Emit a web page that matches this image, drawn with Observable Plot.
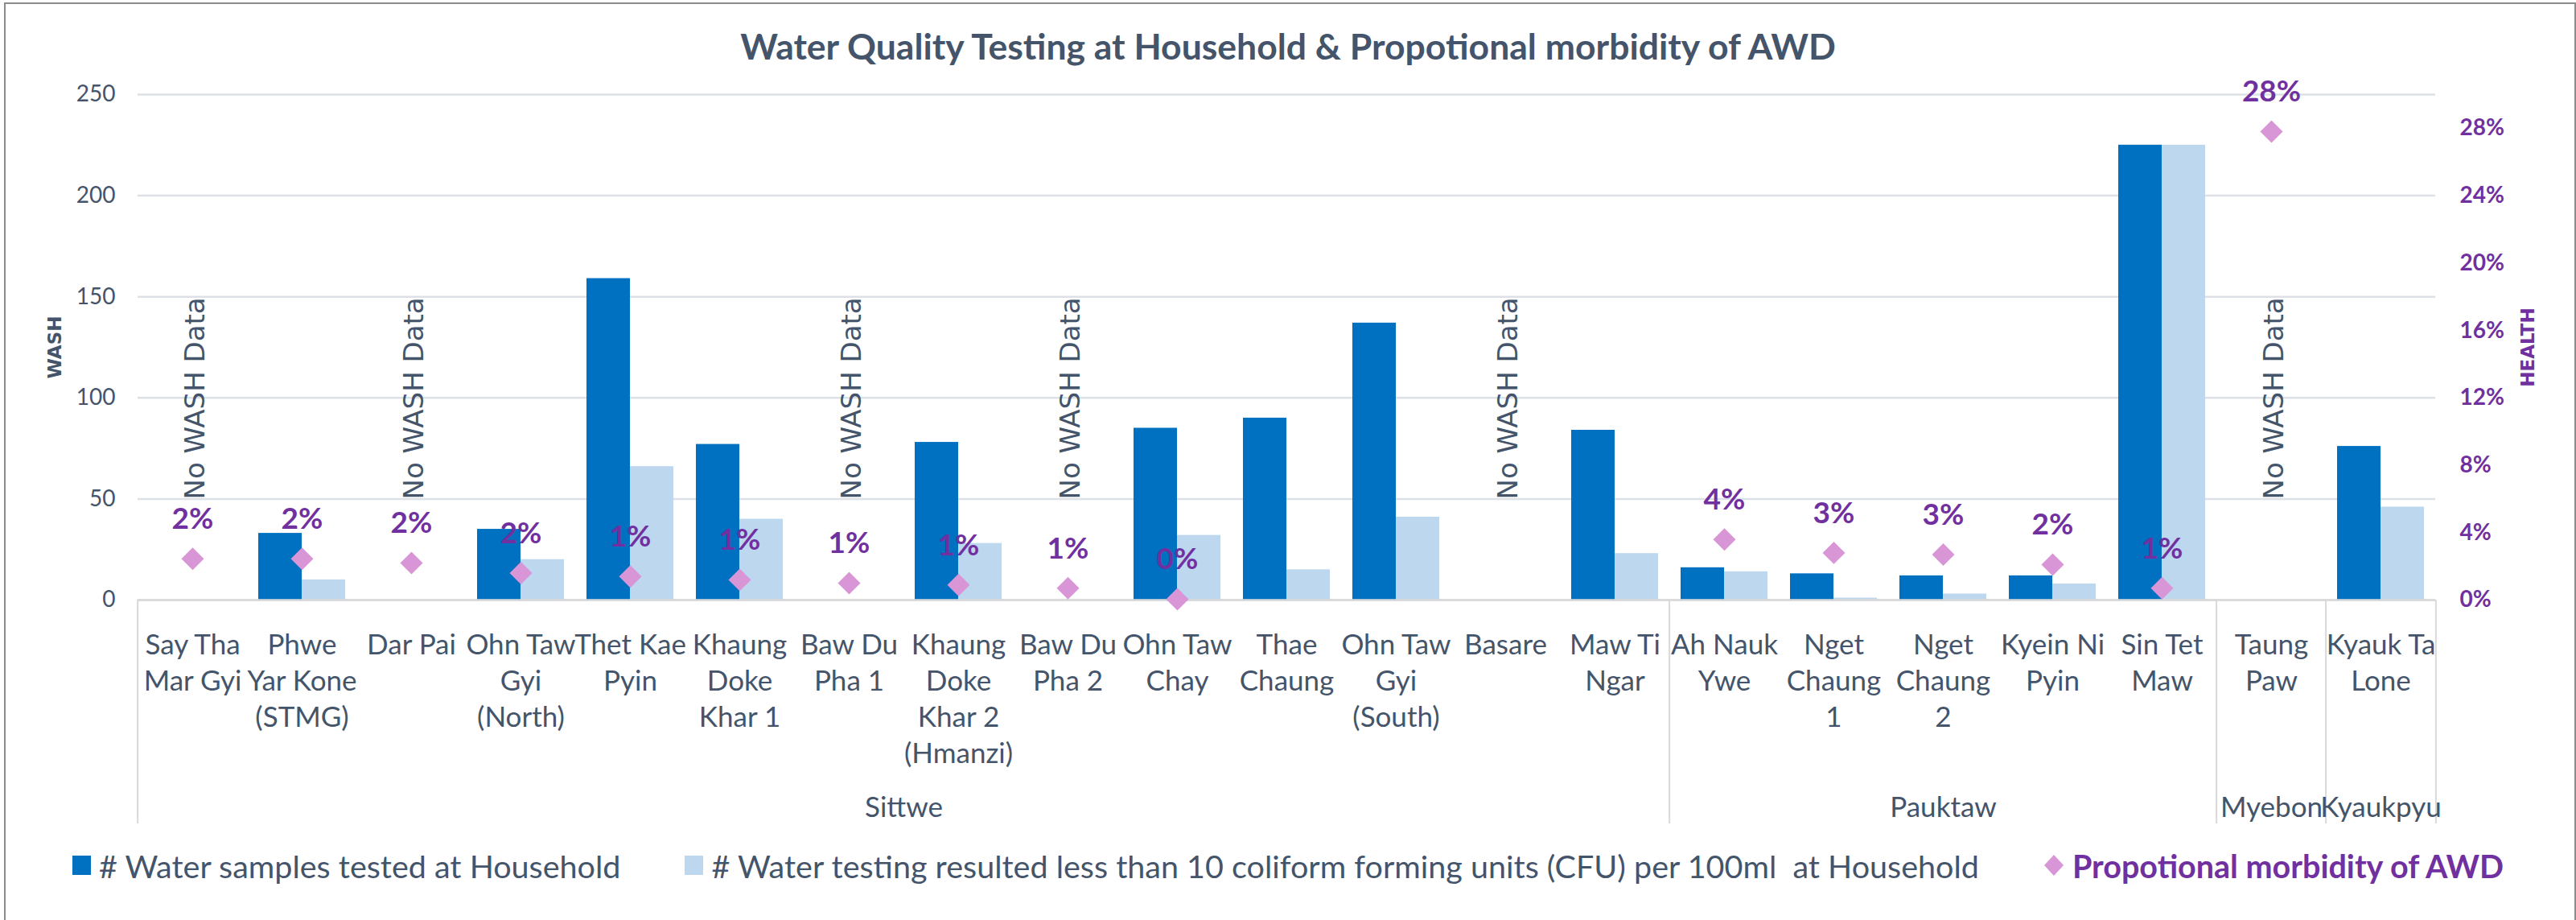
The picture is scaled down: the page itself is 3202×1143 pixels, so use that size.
<!DOCTYPE html>
<html><head><meta charset="utf-8">
<script src="https://cdn.jsdelivr.net/npm/d3@7"></script>
<script src="https://cdn.jsdelivr.net/npm/@observablehq/plot@0.6"></script>
<style>
html,body{margin:0;padding:0;background:#fff;}
body{width:3202px;height:1143px;position:relative;overflow:hidden;font-family:Lato,sans-serif;}
#border{position:absolute;left:5px;top:3px;width:3197px;height:1200px;border:2px solid #8c8c8c;border-bottom:none;box-sizing:border-box;}
#title{position:absolute;left:0;top:28px;width:3202px;text-align:center;font-weight:700;font-size:44.5px;color:#44546A;line-height:58px;}
#chart{position:absolute;left:0;top:90px;}
#legend{position:absolute;left:0;top:1045px;width:3202px;height:60px;display:flex;justify-content:center;align-items:center;gap:80px;font-size:39.5px;color:#44546A;}
.item{display:flex;align-items:center;gap:10px;white-space:pre;}
.sw{width:23px;height:24px;display:inline-block;}
</style></head><body>
<div id="border"></div>
<div id="title">Water Quality Testing at Household &amp; Propotional morbidity of AWD</div>
<div id="chart"></div>
<div id="legend"></div>
<script>
// ---- data ----
const categories = ["Say Tha Mar Gyi","Phwe Yar Kone (STMG)","Dar Pai","Ohn Taw Gyi (North)","Thet Kae Pyin","Khaung Doke Khar 1","Baw Du Pha 1","Khaung Doke Khar 2 (Hmanzi)","Baw Du Pha 2","Ohn Taw Chay","Thae Chaung","Ohn Taw Gyi (South)","Basare","Maw Ti Ngar","Ah Nauk Ywe","Nget Chaung 1","Nget Chaung 2","Kyein Ni Pyin","Sin Tet Maw","Taung Paw","Kyauk Ta Lone"];
const tickLabels = ["Say Tha\nMar Gyi","Phwe\nYar Kone\n(STMG)","Dar Pai","Ohn Taw\nGyi\n(North)","Thet Kae\nPyin","Khaung\nDoke\nKhar 1","Baw Du\nPha 1","Khaung\nDoke\nKhar 2\n(Hmanzi)","Baw Du\nPha 2","Ohn Taw\nChay","Thae\nChaung","Ohn Taw\nGyi\n(South)","Basare","Maw Ti\nNgar","Ah Nauk\nYwe","Nget\nChaung\n1","Nget\nChaung\n2","Kyein Ni\nPyin","Sin Tet\nMaw","Taung\nPaw","Kyauk Ta\nLone"];
const districts = ["Sittwe","Sittwe","Sittwe","Sittwe","Sittwe","Sittwe","Sittwe","Sittwe","Sittwe","Sittwe","Sittwe","Sittwe","Sittwe","Sittwe","Pauktaw","Pauktaw","Pauktaw","Pauktaw","Pauktaw","Myebon","Kyaukpyu"];
const tested = [null,33,null,35,159,77,null,78,null,85,90,137,null,84,16,13,12,12,225,null,76];
const passed = [null,10,null,20,66,40,null,28,null,32,15,41,null,23,14,1,3,8,225,null,46];
const awd = [0.0245,0.0245,0.022,0.016,0.014,0.012,0.010,0.009,0.007,0.0005,null,null,null,null,0.036,0.028,0.027,0.021,0.007,0.278,null];
const seriesNames = ["# Water samples tested at Household","# Water testing resulted less than 10 coliform forming units (CFU) per 100ml  at Household"];
const awdName = "Propotional morbidity of AWD";
const noDataText = "No WASH Data";
const leftTicks = [0,50,100,150,200,250];
const rightTicks = [0,0.04,0.08,0.12,0.16,0.20,0.24,0.28];
const leftMax = 250, rightMax = 0.30;

// ---- style ----
const C = {dark:"#0070C0", light:"#BDD7EE", diamond:"#D896D6", purple:"#7030A0", text:"#44546A", grid:"#DDE1E7"};
const W = 3202, H = 950, mL = 163, mR = 167, mT = 27, mB = 295;
const facetW = (W - mL - mR) / categories.length;
const k = leftMax / rightMax;
const pct = d3.format(".0%");

const bars = [];
categories.forEach((c, i) => {
  if (tested[i] != null) bars.push({cat: c, s: "tested", v: tested[i]});
  if (passed[i] != null) bars.push({cat: c, s: "passed", v: passed[i]});
});
const awdRows = categories.map((c, i) => ({cat: c, p: awd[i]})).filter(d => d.p != null);
const noData = categories.filter((c, i) => tested[i] == null);

// district groups
const groups = [];
districts.forEach((d, i) => {
  const g = groups[groups.length - 1];
  if (g && g.name === d) g.n++; else groups.push({name: d, s: i, n: 1});
});
const groupsEven = [], groupsOdd = [];
groups.forEach(g => {
  const mid = g.s + g.n / 2;
  if (Number.isInteger(mid)) groupsEven.push({name: g.name, cat: categories[mid]});
  else groupsOdd.push({name: g.name, cat: categories[Math.floor(mid)]});
});
const sepLeft = groups.map(g => categories[g.s]);
const sepRight = [categories[categories.length - 1]];

const font = "Lato, sans-serif";
const chart = Plot.plot({
  width: W, height: H,
  marginLeft: mL, marginRight: mR, marginTop: mT, marginBottom: mB,
  style: {fontFamily: font, background: "transparent", overflow: "visible"},
  fx: {domain: categories, padding: 0, label: null},
  x: {domain: ["tested","passed"], paddingInner: 0, paddingOuter: 0.255, axis: null},
  y: {domain: [0, leftMax], label: null},
  color: {domain: ["tested","passed"], range: [C.dark, C.light]},
  marks: [
    Plot.gridY(leftTicks, {stroke: C.grid, strokeOpacity: 1, strokeWidth: 2.5}),
    Plot.barY(bars, {fx: "cat", x: "s", y: "v", fill: "s"}),
    Plot.ruleY([0], {stroke: "#D9D9D9", strokeWidth: 2.5}),
    Plot.ruleX(sepLeft, {fx: d => d, x: null, y1: 0, insetBottom: -278, dx: -facetW / 2, stroke: "#D9D9D9", strokeWidth: 2}),
    Plot.ruleX(sepRight, {fx: d => d, x: null, y1: 0, insetBottom: -278, dx: facetW / 2, stroke: "#D9D9D9", strokeWidth: 2}),
    Plot.text(noData, {fx: d => d, text: () => noDataText, frameAnchor: "bottom", rotate: -90, textAnchor: "start", dy: -125, dx: 14, fontFamily: "DejaVu Sans", fontSize: 34, fill: C.text}),
    Plot.dot(awdRows, {fx: "cat", y: d => d.p * k, symbol: "diamond2", r: 12.6, fill: C.diamond, stroke: "none"}),
    Plot.text(awdRows, {fx: "cat", y: d => d.p * k, text: d => pct(d.p), dy: -49, fill: C.purple, fontWeight: "bold", fontSize: 37}),
    Plot.axisY(leftTicks, {anchor: "left", tickSize: 0, tickPadding: 28, fontSize: 28, color: C.text, label: null}),
    Plot.axisY(rightTicks.map(p => p * k), {anchor: "right", tickSize: 0, tickPadding: 30, fontSize: 28, fontWeight: "bold", color: C.purple, tickFormat: v => pct(v / k), label: null}),
    Plot.axisFx({anchor: "bottom", tickSize: 0, tickPadding: 36, fontSize: 35, lineHeight: 1.286, color: C.text, tickFormat: d => tickLabels[categories.indexOf(d)], label: null}),
    Plot.text(groupsEven, {fx: "cat", text: "name", frameAnchor: "bottom-left", textAnchor: "middle", lineAnchor: "top", dy: 245, fontSize: 35, fill: C.text}),
    Plot.text(groupsOdd, {fx: "cat", text: "name", frameAnchor: "bottom", textAnchor: "middle", lineAnchor: "top", dy: 245, fontSize: 35, fill: C.text}),
    Plot.text([{cat: categories[0], t: "WASH"}], {fx: "cat", text: "t", frameAnchor: "left", textAnchor: "middle", rotate: -90, dx: -103, fontFamily: "DejaVu Sans", fontWeight: "bold", fontSize: 23, fill: C.text}),
    Plot.text([{cat: categories[categories.length - 1], t: "HEALTH"}], {fx: "cat", text: "t", frameAnchor: "right", textAnchor: "middle", rotate: -90, dx: 115, fontFamily: "DejaVu Sans", fontWeight: "bold", fontSize: 23, fill: C.purple})
  ]
});
document.getElementById("chart").appendChild(chart);

// ---- legend ----
const lg = document.getElementById("legend");
[[C.dark, seriesNames[0]], [C.light, seriesNames[1]]].forEach(([col, name]) => {
  const it = document.createElement("div"); it.className = "item";
  const sw = document.createElement("span"); sw.className = "sw"; sw.style.background = col;
  const t = document.createElement("span"); t.textContent = name;
  it.append(sw, t); lg.appendChild(it);
});
const it3 = document.createElement("div"); it3.className = "item";
it3.innerHTML = `<svg width="26" height="28" viewBox="-13 -14 26 28"><path d="M0,-13L12,0L0,13L-12,0Z" fill="${C.diamond}"/></svg>`;
const t3 = document.createElement("span"); t3.textContent = awdName; t3.style.color = C.purple; t3.style.fontWeight = "700";
it3.appendChild(t3); lg.appendChild(it3);
</script>
</body></html>
